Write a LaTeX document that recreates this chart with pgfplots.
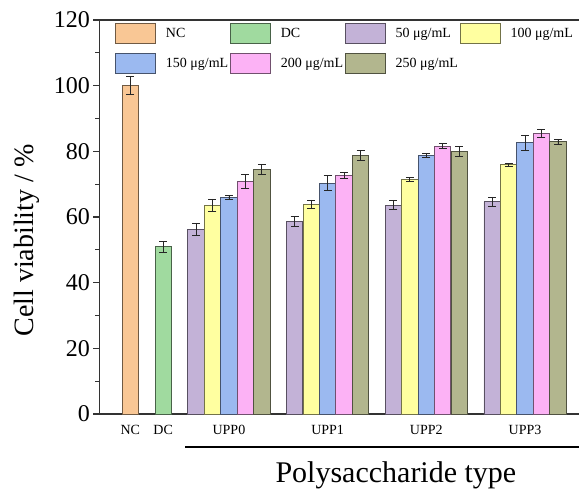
\documentclass[border=0pt]{standalone}
\usepackage{fontspec}
\setmainfont{Liberation Serif}
\usepackage{pgfplots}
\pgfplotsset{compat=1.18}
\usetikzlibrary{calc}

\definecolor{cNC}{HTML}{F9C795}
\definecolor{cDC}{HTML}{A0DA9F}
\definecolor{cA}{HTML}{C3B2D7}
\definecolor{cB}{HTML}{FFFFA0}
\definecolor{cC}{HTML}{9BB9F0}
\definecolor{cD}{HTML}{FCB2F5}
\definecolor{cE}{HTML}{B2B68E}
\definecolor{axgray}{HTML}{333333}

\newcommand{\lt}[1]{\makebox[60pt][l]{#1}}

\pgfplotsset{
  ybar legend/.style={legend image code/.code={\draw[##1,/tikz/.cd,line width=0.9pt] (0pt,-10pt) rectangle (40pt,10pt);}},
  mybar/.style={fill=#1, draw=#1!45!black, line width=0.9pt, bar shift=0pt, bar width=0.99,
    error bars/.cd, y dir=both, y explicit,
    error bar style={line width=0.8pt, black!85},
    error mark options={rotate=90, mark size=4pt, line width=0.8pt, black!85}},
}

\begin{document}
\begin{tikzpicture}
\begin{axis}[
  scale only axis,
  width=479.7pt, height=394pt,
  xmin=-1.88, xmax=27.28,
  ymin=0, ymax=120,
  ybar, bar shift=0pt,
  axis x line*=bottom, axis y line*=left,
  axis line style={axgray, line width=1.2pt},
  ytick={0,20,...,120},
  minor y tick num=1,
  tick align=outside,
  major tick length=6pt, minor tick length=4pt,
  y tick style={axgray, line width=1.1pt},
  xtick={0,2,6,12,18,24},
  xticklabels={NC,DC,UPP0,UPP1,UPP2,UPP3},
  x tick style={draw=none},
  /pgf/number format/assume math mode=true,
  yticklabel style={font=\fontsize{24}{28}\selectfont},
  xticklabel style={font=\fontsize{14}{16}\selectfont, yshift=-2pt},
  clip=false,
  legend columns=4,
  legend style={
    at={(rel axis cs:0,1)}, anchor=north west, xshift=15.7pt, yshift=-3pt,
    draw=none, fill=none, inner sep=0pt, outer sep=0pt,
    font=\fontsize{14}{16}\selectfont,
    row sep=9pt,
    nodes={inner xsep=0pt, inner ysep=0pt, anchor=west},
    /tikz/every odd column/.append style={column sep=10pt},
    /tikz/every even column/.append style={column sep=4pt},
  },
]
\addplot[mybar=cNC] coordinates {(0,100.0) +- (0,2.7)};
\addlegendentry{\lt{NC}}
\addplot[mybar=cDC] coordinates {(2,50.9) +- (0,1.6)};
\addlegendentry{\lt{DC}}
\addplot[mybar=cA] coordinates {(4,56.3) +- (0,1.9) (10,58.7) +- (0,1.6) (16,63.6) +- (0,1.4) (22,64.6) +- (0,1.5)};
\addlegendentry{\lt{50 μg/mL}}
\addplot[mybar=cB] coordinates {(5,63.6) +- (0,1.9) (11,63.9) +- (0,1.3) (17,71.5) +- (0,0.6) (23,75.9) +- (0,0.4)};
\addlegendentry{\lt{100 μg/mL}}
\addplot[mybar=cC] coordinates {(6,65.9) +- (0,0.6) (12,70.3) +- (0,2.3) (18,78.8) +- (0,0.6) (24,82.6) +- (0,2.4)};
\addlegendentry{\lt{150 μg/mL}}
\addplot[mybar=cD] coordinates {(7,70.9) +- (0,2.1) (13,72.7) +- (0,0.8) (19,81.6) +- (0,0.7) (25,85.4) +- (0,1.3)};
\addlegendentry{\lt{200 μg/mL}}
\addplot[mybar=cE] coordinates {(8,74.4) +- (0,1.5) (14,78.8) +- (0,1.6) (20,80.0) +- (0,1.6) (26,82.9) +- (0,0.7)};
\addlegendentry{\lt{250 μg/mL}}

\draw[axgray, line width=1.6pt] (rel axis cs:0,1) -- (rel axis cs:1,1);
\draw[black, line width=1.5pt] (axis cs:3.33,-10.05) -- (axis cs:27.28,-10.05);
\node[anchor=base, font=\fontsize{30}{34}\selectfont] at (axis cs:16.15,-20.92) {Polysaccharide type};
\node[rotate=90, anchor=base, font=\fontsize{28}{32}\selectfont] at (axis cs:-5.88,52.84) {Cell viability / \%};
\coordinate (ll) at (rel axis cs:0,0);
\end{axis}
\pgfresetboundingbox
\path[use as bounding box] ($(ll)+(-99.3pt,-77pt)$) rectangle ($(ll)+(479.7pt,414pt)$);
\end{tikzpicture}
\end{document}
